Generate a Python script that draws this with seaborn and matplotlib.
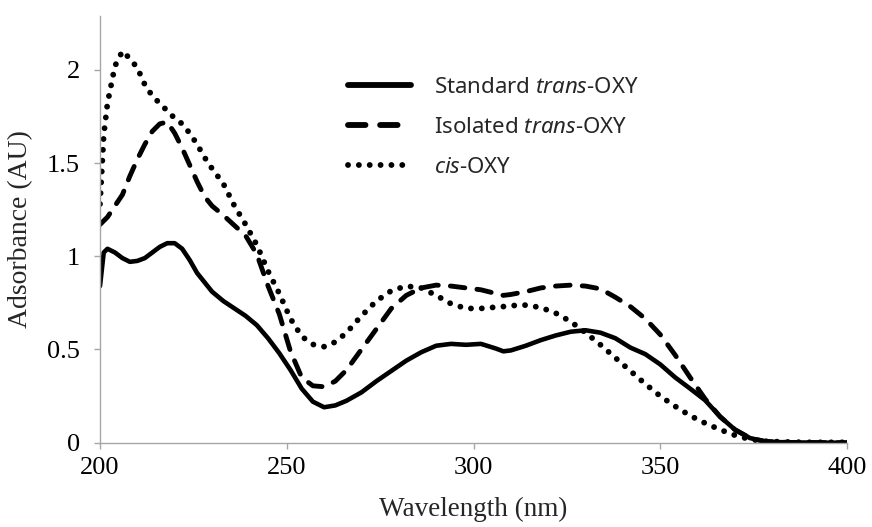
import matplotlib
matplotlib.use("Agg")
import matplotlib.pyplot as plt
import seaborn as sns
import pandas as pd

# Wavelength grid (nm) and absorbance readings for the three samples
wavelength = [200, 201, 202, 204, 206, 208, 210, 212, 214, 216, 218, 220, 222, 224,
              226, 228, 230, 233, 236, 239, 242, 245, 248, 251, 254, 257, 260, 263,
              266, 270, 274, 278, 282, 286, 290, 294, 298, 302, 306, 308, 310, 314,
              318, 322, 326, 330, 334, 338, 342, 346, 350, 354, 358, 362, 366, 370,
              374, 378, 382, 386, 390, 395, 400]

standard_trans = [0.84, 1.02, 1.04, 1.02, 0.99, 0.97, 0.975, 0.99, 1.02, 1.05, 1.07, 1.07,
                  1.04, 0.98, 0.91, 0.86, 0.81, 0.76, 0.72, 0.68, 0.63, 0.56, 0.48, 0.39,
                  0.29, 0.22, 0.19, 0.20, 0.225, 0.27, 0.33, 0.385, 0.44, 0.485, 0.52,
                  0.53, 0.525, 0.53, 0.505, 0.49, 0.495, 0.52, 0.55, 0.575, 0.595, 0.603,
                  0.59, 0.56, 0.51, 0.475, 0.42, 0.35, 0.29, 0.228, 0.14, 0.07, 0.025,
                  0.007, 0.003, 0.001, 0.001, 0.0, 0.0]

isolated_trans = [1.17, 1.19, 1.21, 1.27, 1.33, 1.43, 1.52, 1.60, 1.67, 1.71, 1.72, 1.66,
                  1.58, 1.49, 1.40, 1.32, 1.27, 1.22, 1.165, 1.11, 1.01, 0.84, 0.69, 0.49,
                  0.35, 0.305, 0.30, 0.33, 0.39, 0.50, 0.61, 0.72, 0.79, 0.83, 0.845,
                  0.84, 0.83, 0.82, 0.80, 0.79, 0.795, 0.81, 0.83, 0.84, 0.845, 0.84,
                  0.825, 0.78, 0.73, 0.665, 0.58, 0.47, 0.35, 0.235, 0.14, 0.07, 0.025,
                  0.007, 0.003, 0.001, 0.001, 0.0, 0.0]

cis_oxy = [1.28, 1.65, 1.82, 2.02, 2.10, 2.06, 2.01, 1.92, 1.86, 1.82, 1.78, 1.74, 1.71,
           1.66, 1.60, 1.53, 1.47, 1.39, 1.27, 1.17, 1.06, 0.92, 0.80, 0.665, 0.57,
           0.527, 0.515, 0.54, 0.59, 0.68, 0.76, 0.815, 0.84, 0.83, 0.79, 0.745, 0.72,
           0.72, 0.727, 0.73, 0.735, 0.738, 0.725, 0.695, 0.65, 0.59, 0.525, 0.455,
           0.385, 0.315, 0.25, 0.195, 0.145, 0.105, 0.07, 0.04, 0.018, 0.008, 0.005,
           0.003, 0.002, 0.002, 0.002]

series_labels = ["Standard $\\it{trans}$-OXY", "Isolated $\\it{trans}$-OXY", "$\\it{cis}$-OXY"]
x_ticks = [200, 250, 300, 350, 400]
y_ticks = [0, 0.5, 1, 1.5, 2]
y_tick_labels = ["0", "0.5", "1", "1.5", "2"]

sns.set_theme(style="white")
plt.rcParams["font.family"] = ["Liberation Serif", "DejaVu Serif"]
plt.rcParams["mathtext.fontset"] = "custom"
plt.rcParams["mathtext.it"] = "Noto Sans:italic"
plt.rcParams["mathtext.rm"] = "Noto Sans"

fig = plt.figure(figsize=(8.72, 5.27), dpi=100)
ax = fig.add_axes([100 / 872, 1 - 442.7 / 527, 747 / 872, 427 / 527])

df = pd.DataFrame({"wavelength": wavelength,
                   "standard": standard_trans,
                   "isolated": isolated_trans,
                   "cis": cis_oxy})

styles = [
    dict(y="standard", lw=3.3, linestyle="-", solid_capstyle="round"),
    dict(y="isolated", lw=3.5, linestyle=(0, (3.0, 2.5)), dash_capstyle="round"),
    dict(y="cis", lw=4.2, linestyle=(0, (0.01, 1.85)), dash_capstyle="round"),
]
for st, lab in zip(styles, series_labels):
    col = st.pop("y")
    sns.lineplot(data=df, x="wavelength", y=col, ax=ax, color="black",
                 label=lab, **st)

ax.set_xlim(200, 400)
ax.set_ylim(0, 2.29)
ax.set_xticks(x_ticks)
ax.set_yticks(y_ticks)
ax.set_yticklabels(y_tick_labels)

for side in ["top", "right"]:
    ax.spines[side].set_visible(False)
for side in ["left", "bottom"]:
    ax.spines[side].set_color("#a6a6a6")
    ax.spines[side].set_linewidth(1.0)
ax.tick_params(axis="both", which="major", direction="out", length=4.5, width=1.0,
               color="#a6a6a6", labelsize=19, labelcolor="black")
ax.tick_params(axis="y", pad=10)
ax.tick_params(axis="x", pad=6)
ax.tick_params(left=True, bottom=True)

ax.set_xlabel("Wavelength (nm)", fontsize=19.5, labelpad=13)
ax.set_ylabel("Adsorbance (AU)", fontsize=20, labelpad=10)

leg = ax.legend(loc="upper left", bbox_to_anchor=(348 / 872, 1 - 77 / 527),
                bbox_transform=fig.transFigure, frameon=False, borderpad=0,
                borderaxespad=0, handlelength=2.85, handletextpad=1.0,
                labelspacing=0.85, prop={"family": "Noto Sans", "size": 16})
for h in leg.get_lines():
    h.set_linewidth(4.2)

fig.savefig("out.png", dpi=100)
